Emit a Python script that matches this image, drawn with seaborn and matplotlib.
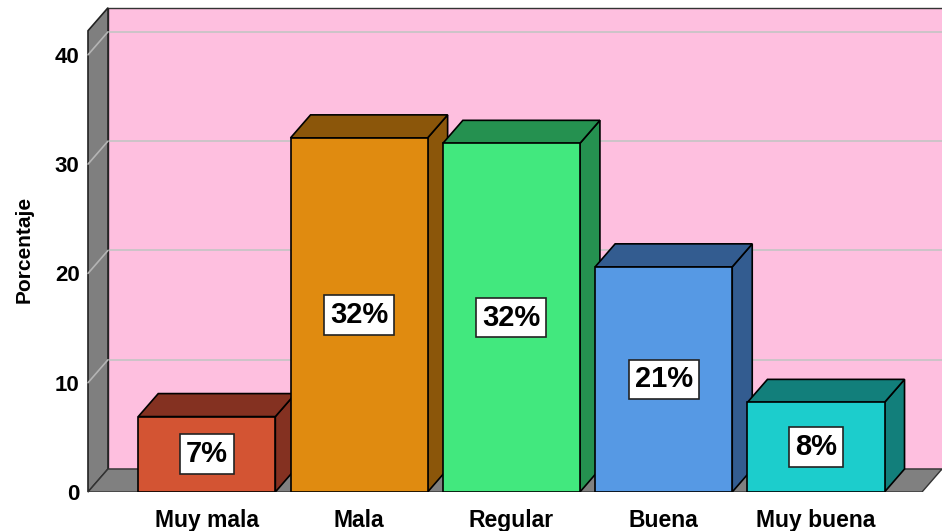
import pandas as pd
import matplotlib.pyplot as plt
from matplotlib.patches import Polygon, Rectangle
import seaborn as sns

# datos
categorias = ['Muy mala', 'Mala', 'Regular', 'Buena', 'Muy buena']
porcentajes = [6.9, 32.4, 31.9, 20.6, 8.2]
etiquetas = ['7%', '32%', '32%', '21%', '8%']
colores = ['#D35433', '#E08B10', '#42E87E', '#5699E4', '#1CCDCC']
colores_osc = ['#843121', '#8B560A', '#259150', '#335C90', '#127F7B']
yticks = [0, 10, 20, 30, 40]

df = pd.DataFrame({'Categoria': categorias, 'Porcentaje': porcentajes})

sns.set_style('white')
plt.rcParams['font.family'] = ['Liberation Sans', 'DejaVu Sans']
plt.rcParams['text.color'] = 'black'
plt.rcParams['axes.labelcolor'] = 'black'
plt.rcParams['xtick.color'] = 'black'
plt.rcParams['ytick.color'] = 'black'

W, H = 942, 531
fig = plt.figure(figsize=(W / 100, H / 100), dpi=100)
# caja de ejes en pixeles: frente izq x=88, base y=492, tope y=7
ax = fig.add_axes([88 / W, (H - 492) / H, (W - 88) / W, (492 - 7) / H])

px_x = 152.3   # pixeles por categoria
px_y = 10.93   # pixeles por unidad
x0 = -0.78
x1 = x0 + (W - 88) / px_x
y1 = (492 - 7) / px_y
dx = 20 / px_x   # profundidad 3D
dy = 23 / px_y
ytop = 42.2

sns.barplot(data=df, x='Categoria', y='Porcentaje', hue='Categoria', palette=colores,
            width=0.9, edgecolor='black', linewidth=1.2, saturation=1, legend=False, ax=ax)
bars = sorted([p for p in ax.patches if isinstance(p, Rectangle) and p.get_height() > 0],
              key=lambda p: p.get_x())
ax.set_xlim(x0, x1)
ax.set_ylim(0, y1)

# pared del fondo
ax.add_patch(Polygon([(x0 + dx, dy), (x1 + 1, dy), (x1 + 1, ytop + dy), (x0 + dx, ytop + dy)],
                     closed=True, fc='#FEBFDF', ec='#333333', lw=1, zorder=1))
# pared izquierda
ax.add_patch(Polygon([(x0, 0), (x0 + dx, dy), (x0 + dx, ytop + dy), (x0, ytop)],
                     closed=True, fc='#7F7F7F', ec='#222222', lw=1.2, zorder=2, clip_on=False))
# piso
ax.add_patch(Polygon([(x0, 0), (x1 - dx, 0), (x1, dy), (x0 + dx, dy)],
                     closed=True, fc='#808080', ec='#333333', lw=1, zorder=2))

# lineas de cuadricula
for v in yticks[1:]:
    ax.plot([x0 + dx, x1], [v + dy, v + dy], color='#C4C4C4', lw=1.2, zorder=1.5)
    ax.plot([x0, x0 + dx], [v, v + dy], color='#B4B4B4', lw=1.2, zorder=2.5, clip_on=False)

for i, p in enumerate(bars):
    xl = p.get_x()
    xr = xl + p.get_width()
    h = p.get_height()
    p.set_zorder(10 + 2 * i + 1)
    top = Polygon([(xl, h), (xl + dx, h + dy), (xr + dx, h + dy), (xr, h)], closed=True,
                  fc=colores_osc[i], ec='black', lw=1.2, zorder=10 + 2 * i)
    side = Polygon([(xr, 0), (xr + dx, dy), (xr + dx, h + dy), (xr, h)], closed=True,
                   fc=colores_osc[i], ec='black', lw=1.2, zorder=10 + 2 * i)
    ax.add_patch(side)
    ax.add_patch(top)
    ax.text(xl + p.get_width() / 2, h / 2, etiquetas[i], ha='center', va='center',
            fontsize=21, fontweight='bold', color='black', zorder=30,
            bbox=dict(boxstyle='square,pad=0.2', fc='white', ec='#222222', lw=1.2))

ax.set_yticks(yticks)
ax.set_yticklabels([str(v) for v in yticks], fontsize=16, fontweight='bold')
ax.set_xticks(range(len(categorias)))
ax.set_xticklabels(categorias, fontsize=16.5, fontweight='bold')
ax.tick_params(axis='y', length=0, pad=6)
ax.tick_params(axis='x', length=0, pad=12)
ax.set_xlabel('')
ax.set_ylabel('Porcentaje', fontsize=15, fontweight='bold', labelpad=15)
for s in ax.spines.values():
    s.set_visible(False)
ax.set_facecolor('white')

plt.savefig('out.png', dpi=100, facecolor='white')
